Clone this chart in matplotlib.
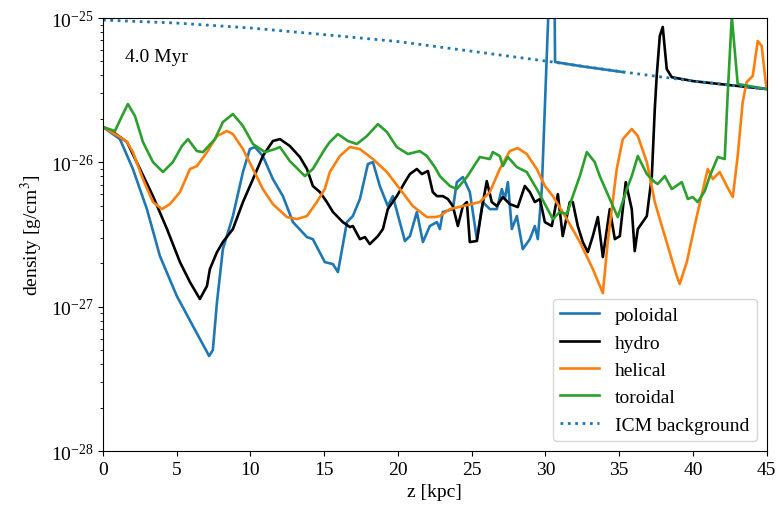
import numpy as np
import matplotlib
matplotlib.use('Agg')
import matplotlib.pyplot as plt

plt.rcParams['font.family'] = ['Liberation Serif', 'DejaVu Serif']
plt.rcParams['mathtext.fontset'] = 'stix'
plt.rcParams['font.size'] = 14

# z [kpc] and log10(density [g/cm^3])
z_icm = [0, 5, 10, 15, 20, 25, 30, 35, 40, 45]
logrho_icm = [-25.014, -25.035, -25.069, -25.115, -25.163, -25.23, -25.298, -25.37, -25.437, -25.492]

z_pol = [0, 1.15, 2.03, 2.98, 3.86, 5.01, 6.1, 7.2, 7.45, 7.73, 8.13, 8.81, 9.49, 9.96, 10.3,
         10.84, 11.52, 12.2, 12.88, 13.83, 14.23, 15.04, 15.59, 15.93, 16.54, 16.94, 17.42,
         17.96, 18.3, 18.77, 19.31, 19.65, 20.47, 20.81, 21.28, 21.69, 22.16, 22.64, 22.84,
         23.04, 23.72, 23.99, 24.4, 24.87, 25.35, 25.75, 26.23, 26.7, 27.04, 27.24, 27.45,
         27.72, 28.06, 28.46, 28.94, 29.28, 29.48, 29.75, 30.55, 30.65, 32.5, 35.3]
logrho_pol = [-25.755, -25.839, -26.046, -26.324, -26.649, -26.927, -27.134, -27.342, -27.30,
              -26.968, -26.601, -26.372, -26.067, -25.908, -25.894, -25.956, -26.116, -26.234,
              -26.414, -26.518, -26.532, -26.691, -26.705, -26.760, -26.414, -26.372, -26.254,
              -26.012, -25.998, -26.164, -26.303, -26.234, -26.545, -26.511, -26.344, -26.552,
              -26.441, -26.414, -26.462, -26.344, -26.324, -26.137, -26.102, -26.206, -26.532,
              -26.275, -26.324, -26.324, -26.185, -26.254, -26.137, -26.462, -26.372, -26.601,
              -26.532, -26.441, -26.532, -26.185, -24.0, -25.305, -25.335, -25.375]

z_hyd = [0, 0.68, 1.63, 2.51, 3.39, 4.34, 5.22, 5.9, 6.57, 7.05, 7.25, 7.73, 8.13, 8.81, 9.49,
         10.17, 10.84, 11.52, 12.0, 12.67, 13.35, 13.83, 14.23, 14.71, 15.18, 15.59, 16.26,
         16.74, 16.94, 17.42, 17.76, 18.09, 18.64, 18.98, 19.31, 19.92, 20.47, 20.81, 21.28,
         21.62, 22.03, 22.36, 22.64, 23.04, 23.38, 23.72, 24.06, 24.4, 24.67, 24.87, 25.35,
         25.68, 26.02, 26.36, 26.7, 27.11, 27.58, 28.12, 28.6, 28.94, 29.28, 29.62, 29.96,
         30.43, 30.84, 31.17, 31.65, 31.85, 32.19, 32.53, 32.87, 33.21, 33.55, 33.89, 34.36,
         34.7, 35.04, 35.44, 35.85, 36.05, 36.26, 36.87, 37.21, 37.41, 37.54, 37.75, 37.95,
         38.22, 38.56, 40, 42.5, 45]
logrho_hyd = [-25.755, -25.790, -25.859, -26.046, -26.234, -26.462, -26.691, -26.830, -26.947,
              -26.857, -26.739, -26.622, -26.552, -26.462, -26.275, -26.116, -25.956, -25.852,
              -25.839, -25.887, -25.963, -26.046, -26.164, -26.206, -26.275, -26.344, -26.414,
              -26.448, -26.441, -26.532, -26.518, -26.566, -26.511, -26.462, -26.324, -26.234,
              -26.137, -26.081, -26.046, -26.081, -26.060, -26.206, -26.234, -26.234, -26.254,
              -26.303, -26.441, -26.303, -26.275, -26.552, -26.545, -26.324, -26.130, -26.275,
              -26.303, -26.240, -26.289, -26.310, -26.164, -26.206, -26.275, -26.254, -26.414,
              -26.441, -26.220, -26.511, -26.275, -26.275, -26.441, -26.552, -26.622, -26.511,
              -26.379, -26.656, -26.324, -26.532, -26.511, -26.137, -26.324, -26.615, -26.462,
              -26.372, -26.095, -25.631, -25.402, -25.125, -25.062, -25.353, -25.41, -25.437,
              -25.465, -25.492]

z_hel = [0, 1.15, 1.63, 2.03, 2.71, 3.39, 4.0, 4.54, 5.22, 5.9, 6.37, 7.05, 7.73, 8.4, 8.81,
         9.49, 10.17, 10.84, 11.52, 12.47, 13.15, 13.83, 14.5, 15.04, 15.38, 16.06, 16.74,
         17.42, 18.3, 19.25, 20.13, 21.01, 21.96, 22.5, 22.84, 23.52, 24.4, 25.55, 26.23,
         26.9, 27.58, 28.12, 28.73, 29.41, 29.96, 30.5, 31.45, 32.33, 33.21, 33.89, 34.22,
         34.83, 35.24, 35.85, 36.26, 36.87, 37.41, 37.95, 38.9, 39.1, 39.58, 40.26, 41.0,
         41.34, 41.81, 42.29, 42.7, 43.03, 43.37, 43.64, 44.05, 44.39, 44.66, 44.93, 45]
logrho_hel = [-25.755, -25.825, -25.859, -25.929, -26.116, -26.275, -26.324, -26.289, -26.206,
              -26.046, -26.026, -25.929, -25.818, -25.783, -25.804, -25.908, -26.046, -26.185,
              -26.289, -26.379, -26.393, -26.372, -26.275, -26.185, -26.067, -25.956, -25.894,
              -25.908, -25.977, -26.067, -26.185, -26.303, -26.379, -26.379, -26.372, -26.324,
              -26.303, -26.275, -26.206, -26.046, -25.922, -25.901, -25.942, -26.046, -26.164,
              -26.234, -26.393, -26.552, -26.739, -26.906, -26.552, -26.046, -25.839, -25.769,
              -25.818, -25.998, -26.275, -26.462, -26.788, -26.843, -26.691, -26.372, -26.046,
              -26.116, -26.067, -26.164, -26.240, -25.956, -25.582, -25.444, -25.402, -25.159,
              -25.194, -25.444, -25.492]

z_tor = [0, 0.81, 1.29, 1.69, 2.17, 2.71, 3.39, 4.07, 4.74, 5.35, 5.76, 6.37, 6.78, 7.59, 8.13,
         8.81, 9.49, 10.17, 10.98, 11.66, 12.0, 12.67, 13.69, 14.23, 15.04, 15.38, 15.93, 16.6,
         17.21, 17.89, 18.64, 19.25, 19.92, 20.67, 21.48, 21.96, 22.5, 22.84, 23.52, 23.99,
         24.67, 25.55, 26.23, 26.43, 26.9, 27.11, 27.45, 28.06, 28.73, 29.41, 29.96, 30.5,
         30.97, 31.45, 31.85, 32.33, 32.8, 33.34, 33.68, 34.36, 34.9, 35.51, 35.85, 36.26,
         36.87, 37.41, 37.61, 38.09, 38.56, 39.24, 39.65, 39.98, 40.32, 40.8, 41.14, 41.68,
         42.15, 42.36, 42.63, 43.03, 45]
logrho_tor = [-25.755, -25.783, -25.679, -25.596, -25.679, -25.859, -25.998, -26.067, -25.998,
              -25.887, -25.839, -25.922, -25.929, -25.839, -25.721, -25.665, -25.748, -25.873,
              -25.929, -25.908, -25.894, -25.991, -26.095, -26.046, -25.908, -25.859, -25.804,
              -25.852, -25.873, -25.818, -25.735, -25.790, -25.894, -25.942, -25.922, -25.956,
              -26.033, -26.095, -26.164, -26.185, -26.102, -25.963, -25.977, -25.929, -25.956,
              -26.026, -25.963, -26.033, -26.067, -26.185, -26.289, -26.393, -26.344, -26.358,
              -26.234, -26.095, -25.929, -25.998, -26.095, -26.254, -26.379, -26.185, -26.095,
              -25.956, -26.081, -26.137, -26.150, -26.095, -26.185, -26.137, -26.254, -26.240,
              -26.275, -26.199, -26.095, -25.963, -25.977, -25.513, -24.99, -25.457, -25.492]

fig = plt.figure(figsize=(7.8, 5.1), dpi=100)
ax = fig.add_axes([0.132, 0.1137, 0.851, 0.849])

lw = 1.9
ax.plot(z_pol, 10**np.array(logrho_pol), color='tab:blue', lw=lw, label='poloidal')
ax.plot(z_hyd, 10**np.array(logrho_hyd), color='black', lw=lw, label='hydro')
ax.plot(z_hel, 10**np.array(logrho_hel), color='tab:orange', lw=lw, label='helical')
ax.plot(z_tor, 10**np.array(logrho_tor), color='tab:green', lw=lw, label='toroidal')
ax.plot(z_icm, 10**np.array(logrho_icm), color='tab:blue', ls=':', lw=2.0, label='ICM background')

ax.set_yscale('log')
ax.set_xlim(0, 45)
ax.set_ylim(1e-28, 1e-25)
ax.set_xticks([0, 5, 10, 15, 20, 25, 30, 35, 40, 45])
ax.set_xlabel('z [kpc]')
ax.set_ylabel(r'density [g/cm$^3$]')
ax.text(0.033, 0.91, '4.0 Myr', transform=ax.transAxes, va='center', ha='left')
ax.legend(loc='lower right')

fig.savefig('out.png', dpi=100)
